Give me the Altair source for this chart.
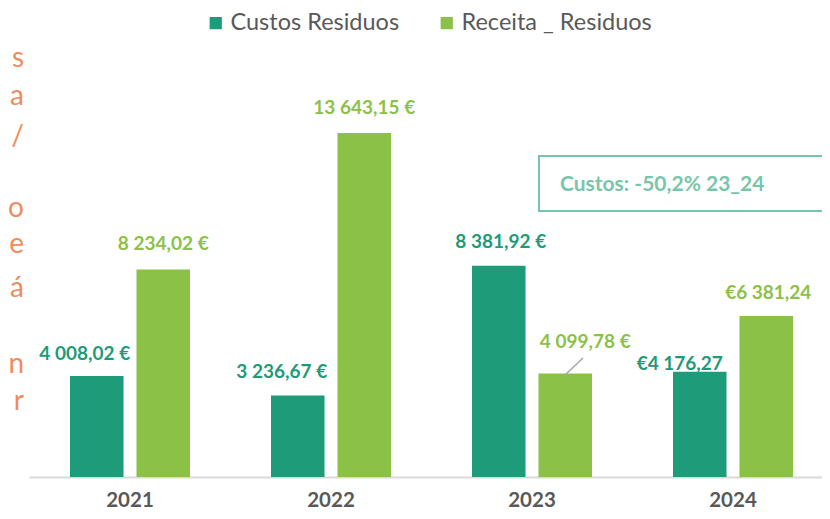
import altair as alt
import pandas as pd

# ---- data ----
years = ["2021", "2022", "2023", "2024"]
series = ["Custos Residuos", "Receita _ Residuos"]
custos = [4008.02, 3236.67, 8381.92, 4176.27]
receita = [8234.02, 13643.15, 4099.78, 6381.24]
custos_labels = ["4 008,02 €", "3 236,67 €", "8 381,92 €", "€4 176,27"]
receita_labels = ["8 234,02 €", "13 643,15 €", "4 099,78 €", "€6 381,24"]
box_text = "Custos: -50,2% 23_24"
side_letters = ["s", "a", "/", "o", "e", "á", "n", "r"]

# ---- layout (pixel nudges, kept apart from the data) ----
custos_nudge = [(-12, -22), (-16, -23), (2, -24), (-20, -8)]
receita_nudge = [(0, -25), (0, -25), (20, -32), (2, -23)]
side_baselines = [59, 97, 137, 209, 245, 289, 365, 402]

TEAL = "#1E9B78"
GREEN = "#8BC147"
BOX = "#78C6AA"
ORANGE = "#EF8C5E"
FONT = "Lato"

rows = []
for i, y in enumerate(years):
    rows.append({"ano": y, "serie": series[0], "valor": custos[i], "rotulo": custos_labels[i]})
    rows.append({"ano": y, "serie": series[1], "valor": receita[i], "rotulo": receita_labels[i]})
df = pd.DataFrame(rows)

x_enc = alt.X(
    "ano:N",
    sort=years,
    scale=alt.Scale(range=[0, 805], paddingInner=0.403, paddingOuter=0.204),
    axis=alt.Axis(
        title=None, labelAngle=0, ticks=False, grid=False,
        domainColor="#D9D9D9", domainWidth=2,
        labelFont=FONT, labelFontWeight="bold", labelFontSize=20.5,
        labelColor="#595959", labelPadding=13,
    ),
)
xoff_enc = alt.XOffset("serie:N", sort=series, scale=alt.Scale(paddingInner=0.195, paddingOuter=0))
y_enc = alt.Y("valor:Q", scale=alt.Scale(domain=[0, 18600], nice=False, zero=True), axis=None)

bars = alt.Chart(df).mark_bar().encode(
    x=x_enc,
    xOffset=xoff_enc,
    y=y_enc,
    color=alt.Color(
        "serie:N",
        scale=alt.Scale(domain=series, range=[TEAL, GREEN]),
        legend=alt.Legend(
            title=None, orient="none", legendX=175, legendY=3,
            direction="horizontal", columns=2,
            symbolType="square", symbolSize=150, symbolStrokeWidth=0,
            labelFont=FONT, labelFontSize=23.5, labelColor="#595959", labelLimit=400,
            labelOffset=3, columnPadding=35, padding=0,
        ),
    ),
)

layers = [bars]
for i, y in enumerate(years):
    for s, nudges, col in ((series[0], custos_nudge, TEAL), (series[1], receita_nudge, GREEN)):
        dx, dy = nudges[i]
        sub = df[(df["ano"] == y) & (df["serie"] == s)]
        layers.append(
            alt.Chart(sub).mark_text(
                font=FONT, fontWeight="bold", fontSize=19, color=col,
                dx=dx, dy=dy, baseline="middle", align="center",
            ).encode(x=x_enc, xOffset=xoff_enc, y=y_enc, text="rotulo:N")
        )

# leader line for the 2023 revenue label
leader = alt.Chart(pd.DataFrame({"k": [0]})).mark_rule(color="#A6A6A6", strokeWidth=1.5).encode(
    x=alt.value(536), x2=alt.value(554), y=alt.value(367), y2=alt.value(350)
)

# annotation box
box_df = pd.DataFrame({"t": [box_text]})
box = alt.Chart(box_df).mark_rect(fill="white", stroke=BOX, strokeWidth=2).encode(
    x=alt.value(510), x2=alt.value(840), y=alt.value(148), y2=alt.value(203)
)
box_label = alt.Chart(box_df).mark_text(
    font=FONT, fontWeight="bold", fontSize=21, color=BOX, align="left", baseline="middle"
).encode(x=alt.value(531), y=alt.value(177), text="t:N")

# cut-off orange text fragments on the left edge
side_df = pd.DataFrame({"c": side_letters, "py": side_baselines})
side = alt.Chart(side_df).mark_text(
    font=FONT, fontSize=28, color=ORANGE, align="right", baseline="alphabetic"
).encode(x=alt.value(-5), y=alt.Y("py:Q", scale=None, axis=None), text="c:N")

chart = alt.layer(*layers, leader, box, box_label, side).properties(
    width=793, height=469,
    autosize=alt.AutoSizeParams(type="none"),
    padding={"left": 21, "top": 0, "right": 0, "bottom": 34},
).configure(font=FONT).configure_view(stroke=None)

chart.save("out.html", embed_options={"renderer": "svg", "actions": False})
